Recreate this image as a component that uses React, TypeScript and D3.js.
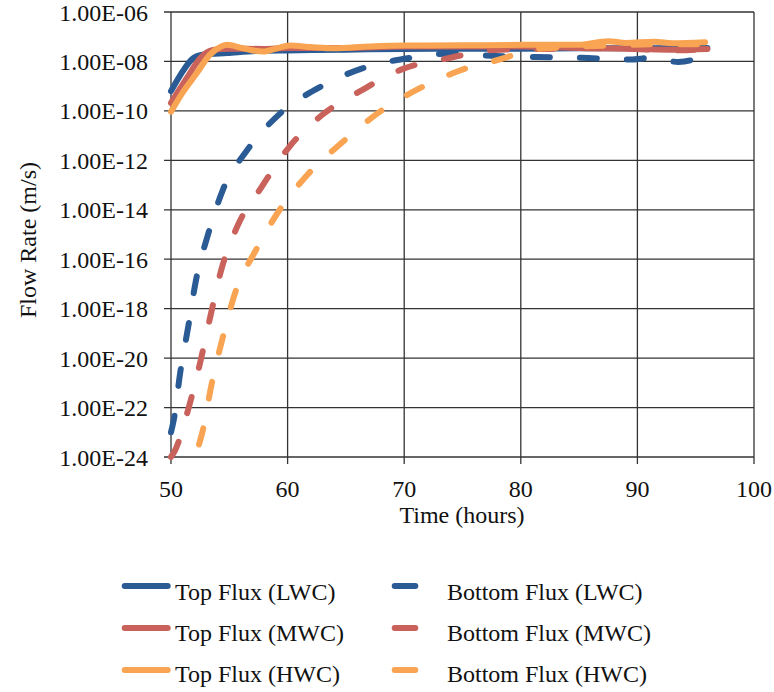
import React from "react";
import * as d3 from "d3";

// time (hours) and flow rate (m/s)
const topLwcT = [50, 50.8, 51.9, 52.8, 54.8, 57.6, 60, 65, 70, 75, 80, 85, 90, 96];
const topLwcV = [6.3e-10, 2.8e-9, 1.35e-8, 1.9e-8, 2.2e-8, 2.7e-8, 2.8e-8, 3.0e-8, 3.2e-8, 3.25e-8, 3.3e-8, 3.4e-8, 3.45e-8, 3.5e-8];

const topMwcT = [50, 51.35, 52.5, 53.6, 55, 58, 60, 65, 70, 75, 80, 85, 90, 93, 96];
const topMwcV = [2.1e-10, 2.1e-9, 1.35e-8, 2.9e-8, 3.3e-8, 3.2e-8, 3.5e-8, 3.5e-8, 4.0e-8, 4.0e-8, 4.0e-8, 3.5e-8, 3.2e-8, 3.0e-8, 3.2e-8];

const topHwcT = [50, 51.05, 52.2, 53.3, 54.3, 54.8, 56.2, 57.9, 59.1, 60.2, 62, 64, 67, 70, 75, 80.8, 85, 87.5, 89, 91.5, 93, 95.8];
const topHwcV = [9.3e-11, 6.0e-10, 3.3e-9, 1.8e-8, 4.0e-8, 4.7e-8, 3.4e-8, 2.5e-8, 3.4e-8, 4.4e-8, 3.8e-8, 3.4e-8, 4.0e-8, 4.4e-8, 4.5e-8, 4.7e-8, 4.7e-8, 6.6e-8, 5.6e-8, 6.3e-8, 5.5e-8, 6.0e-8];

const botLwcT = [50, 50.24, 50.79, 51.48, 52.14, 53.19, 54.44, 56.54, 59.3, 62.56, 66.28, 70.28, 74.1, 77.8, 81.3, 85.2, 89.4, 91.2, 93.5, 95.2, 96];
const botLwcV = [1.0e-23, 3.2e-23, 2.6e-21, 1.9e-19, 1.4e-17, 1.05e-15, 6.3e-14, 2.6e-12, 7.4e-11, 8.1e-10, 5.0e-9, 1.35e-8, 2.1e-8, 1.65e-8, 1.5e-8, 1.4e-8, 1.2e-8, 1.4e-8, 9.5e-9, 1.4e-8, 2.2e-8];

const botMwcT = [50, 50.37, 51.48, 52.5, 53.36, 54.29, 55.7, 57.74, 60.1, 62.95, 66.3, 69.85, 73.76, 77.7, 82, 86, 90, 93, 96];
const botMwcV = [1.0e-24, 1.95e-24, 8.5e-23, 6.6e-21, 4.5e-19, 3.4e-17, 2.2e-15, 7.9e-14, 3.3e-12, 6.8e-11, 6.6e-10, 4.9e-9, 1.35e-8, 2.9e-8, 3.2e-8, 3.4e-8, 3.2e-8, 2.8e-8, 3.2e-8];

const botHwcT = [52.4, 52.71, 53.48, 54.44, 55.51, 57.25, 59.25, 61.74, 64.74, 67.8, 71.3, 74.9, 78.76, 80.5, 84, 88, 92, 96];
const botHwcV = [3.2e-24, 1.1e-23, 8.7e-22, 6.8e-20, 4.5e-18, 2.2e-16, 8.9e-15, 2.75e-13, 5.6e-12, 8.5e-11, 8.1e-10, 4.5e-9, 1.45e-8, 2.8e-8, 3.8e-8, 4.5e-8, 5.0e-8, 5.0e-8];

const xTicks = [50, 60, 70, 80, 90, 100];
const yTicks = [1e-6, 1e-8, 1e-10, 1e-12, 1e-14, 1e-16, 1e-18, 1e-20, 1e-22, 1e-24];

const BLUE = "#2a5b94";
const RED = "#c9625a";
const ORANGE = "#f9a452";

// legend order (row by row, like Excel) is also draw order
const series = [
  { name: "Top Flux (LWC)", t: topLwcT, v: topLwcV, color: BLUE, dashed: false },
  { name: "Bottom Flux (LWC)", t: botLwcT, v: botLwcV, color: BLUE, dashed: true },
  { name: "Top Flux (MWC)", t: topMwcT, v: topMwcV, color: RED, dashed: false },
  { name: "Bottom Flux (MWC)", t: botMwcT, v: botMwcV, color: RED, dashed: true },
  { name: "Top Flux (HWC)", t: topHwcT, v: topHwcV, color: ORANGE, dashed: false },
  { name: "Bottom Flux (HWC)", t: botHwcT, v: botHwcV, color: ORANGE, dashed: true },
];

const fmtY = (v: number) => {
  const e = Math.round(Math.log10(v));
  const sign = e < 0 ? "-" : "+";
  return `1.00E${sign}${String(Math.abs(e)).padStart(2, "0")}`;
};

export default function App() {
  const left = 171, right = 754, top = 12, bottom = 457;
  const x = d3.scaleLinear().domain([50, 100]).range([left, right]);
  const y = d3.scaleLog().domain([1e-24, 1e-6]).range([bottom, top]);
  const font = "'Liberation Serif', 'Times New Roman', serif";

  const line = d3
    .line<[number, number]>()
    .x((d) => x(d[0]))
    .y((d) => y(d[1]))
    .curve(d3.curveMonotoneX);

  const grid = "#333";

  return (
    <svg width={774} height={692} style={{ position: "absolute", left: 0, top: 0 }} fontFamily={font}>
      <rect width={774} height={692} fill="#fff" />
      <defs>
        <clipPath id="plot">
          <rect x={left - 4} y={top - 4} width={right - left + 8} height={bottom - top + 8} />
        </clipPath>
      </defs>

      {/* grid + frame */}
      {yTicks.map((t) => (
        <line key={"gy" + t} x1={left - 7} x2={right} y1={y(t)} y2={y(t)} stroke={grid} strokeWidth={1.3} />
      ))}
      {xTicks.map((t) => (
        <line key={"gx" + t} x1={x(t)} x2={x(t)} y1={top} y2={bottom + 7} stroke={grid} strokeWidth={1.3} />
      ))}

      {/* y tick labels */}
      {yTicks.map((t) => (
        <text key={"ly" + t} x={148} y={y(t) + 8.5} textAnchor="end" fontSize={24} fill="#111">
          {fmtY(t)}
        </text>
      ))}
      {/* x tick labels */}
      {xTicks.map((t) => (
        <text key={"lx" + t} x={x(t)} y={497} textAnchor="middle" fontSize={24} fill="#111">
          {t}
        </text>
      ))}

      <text x={462} y={523} textAnchor="middle" fontSize={24} fill="#111">
        Time (hours)
      </text>
      <text transform="translate(36,240) rotate(-90)" textAnchor="middle" fontSize={24} fill="#111">
        Flow Rate (m/s)
      </text>

      {/* series */}
      <g clipPath="url(#plot)">
        {series.map((s) => (
          <path
            key={s.name}
            d={line(s.t.map((t, i) => [t, s.v[i]] as [number, number])) || ""}
            fill="none"
            stroke={s.color}
            strokeWidth={6}
            strokeLinecap="round"
            strokeLinejoin="round"
            strokeDasharray={s.dashed ? "17 30" : undefined}
          />
        ))}
      </g>

      {/* legend */}
      {[0, 1, 2].map((row) => {
        const solid = series[row * 2];
        const dash = series[row * 2 + 1];
        const ly = 586 + row * 42;
        const ty = 600 + row * 41;
        return (
          <g key={"leg" + row}>
            <line x1={124.7} x2={167.7} y1={ly} y2={ly} stroke={solid.color} strokeWidth={6} strokeLinecap="round" />
            <text x={175} y={ty} fontSize={24} fill="#111">
              {solid.name}
            </text>
            <line x1={394.7} x2={415.3} y1={ly} y2={ly} stroke={dash.color} strokeWidth={6} strokeLinecap="round" />
            <text x={447} y={ty} fontSize={24} fill="#111">
              {dash.name}
            </text>
          </g>
        );
      })}
    </svg>
  );
}
